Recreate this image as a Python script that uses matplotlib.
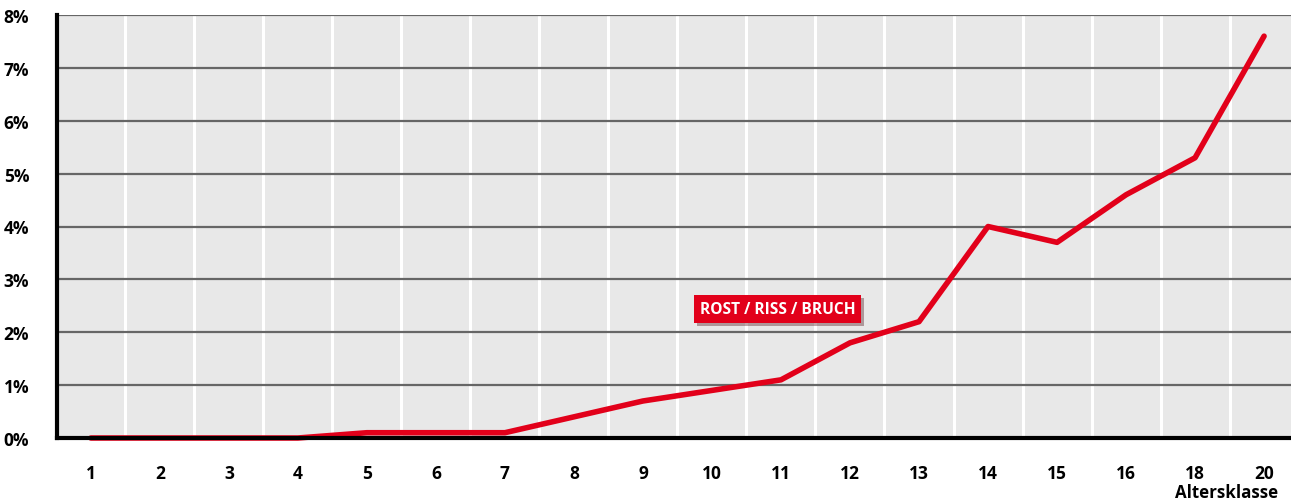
import matplotlib
matplotlib.use("Agg")
import matplotlib.pyplot as plt
import matplotlib.patheffects as pe

plt.rcParams['font.family'] = ['Open Sans', 'DejaVu Sans']

# data
altersklasse = ['1', '2', '3', '4', '5', '6', '7', '8', '9', '10',
                '11', '12', '13', '14', '15', '16', '18', '20']
anteil = [0.0, 0.0, 0.0, 0.0, 0.1, 0.1, 0.1, 0.4, 0.7, 0.9,
          1.1, 1.8, 2.2, 4.0, 3.7, 4.6, 5.3, 7.6]
y_ticks = [0, 1, 2, 3, 4, 5, 6, 7, 8]

fig = plt.figure(figsize=(12.91, 5.02), dpi=100)
ax = fig.add_axes([57 / 1291, 63 / 502, 1 - 57 / 1291, 423 / 502])
ax.set_facecolor('#e8e8e8')

x = list(range(len(altersklasse)))

# white vertical separators between classes
for i in range(len(altersklasse)):
    ax.axvline(i + 0.5, color='white', lw=2.2, zorder=1)
# dark horizontal grid
for v in y_ticks[1:]:
    ax.axhline(v, color='#666666', lw=1.6, zorder=2)

ax.plot(x, anteil, color='#e2001a', lw=4, solid_capstyle='round',
        solid_joinstyle='round', zorder=4, clip_on=False)

ax.set_xlim(-0.49, 17.39)
ax.set_ylim(0, 8)
ax.set_xticks(x)
ax.set_xticklabels(altersklasse)
ax.set_yticks(y_ticks)
ax.set_yticklabels([f'{v}%' for v in y_ticks])
ax.tick_params(length=0, labelsize=12.5)
ax.tick_params(axis='x', pad=19)
ax.tick_params(axis='y', pad=20)
for lab in ax.get_xticklabels() + ax.get_yticklabels():
    lab.set_fontweight('bold')

for s in ['top', 'right']:
    ax.spines[s].set_visible(False)
ax.spines['left'].set_linewidth(3)
ax.spines['bottom'].set_linewidth(3)
ax.spines['left'].set_zorder(5)
ax.spines['bottom'].set_zorder(5)

ax.text(9.95, 2.44, 'ROST / RISS / BRUCH', color='white', fontsize=11.2,
        fontweight='bold', ha='center', va='center', zorder=6,
        bbox=dict(boxstyle='square,pad=0.38', fc='#e2001a', ec='none',
                  path_effects=[pe.withSimplePatchShadow(offset=(2, -2),
                                                         alpha=0.35)]))

fig.text(1278 / 1291, 1 - 493 / 502, 'Altersklasse', ha='right',
         va='center', fontsize=12.2, fontweight='bold')

fig.savefig('out.png', dpi=100)
